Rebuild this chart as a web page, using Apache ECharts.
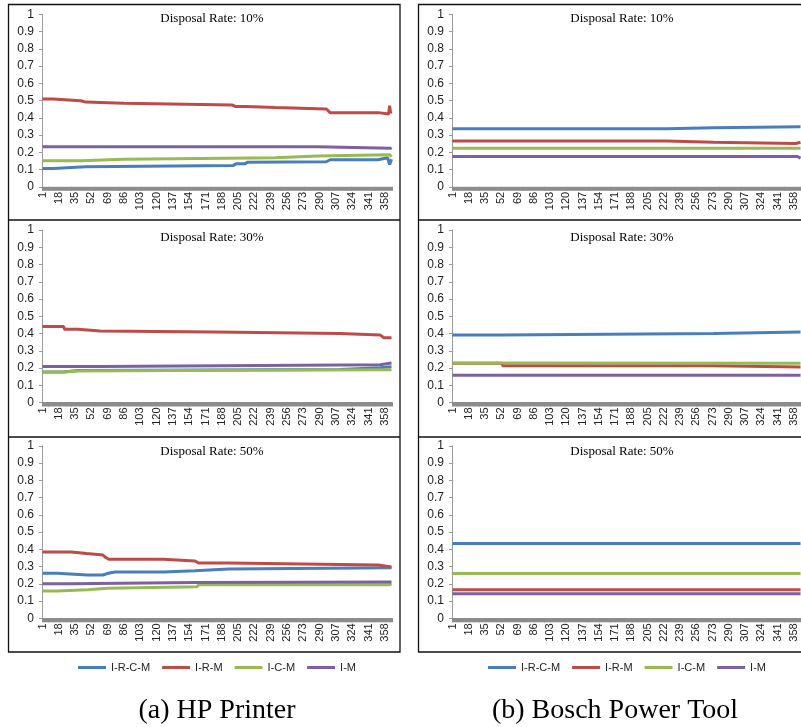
<!DOCTYPE html>
<html>
<head>
<meta charset="utf-8">
<title>Disposal Rate</title>
<script src="https://cdn.jsdelivr.net/npm/echarts@6/dist/echarts.min.js"></script>
<style>
html,body{margin:0;padding:0;background:#fff;}
#chart{width:801px;height:727px;}
</style>
</head>
<body>
<div id="chart"></div>
<script>
/*series names, panel titles and captions*/
var names = ['I-R-C-M', 'I-R-M', 'I-C-M', 'I-M'];
var rateTitles = ['Disposal Rate: 10%', 'Disposal Rate: 30%', 'Disposal Rate: 50%'];
var captions = ['(a) HP Printer', '(b) Bosch Power Tool'];

/*x categories: day 1 .. 365*/
var days = [];
for (var d = 1; d <= 365; d++) {
    days.push(String(d));
}

/**
 * [day, value] corners of each step line
 */
// HP Printer, 10%
var hp10_ircm = [[1,0.106],[12,0.106],[13,0.116],[46,0.116],[47,0.124],[200,0.124],[203,0.133],[212,0.133],[215,0.143],[297,0.145],[301,0.157],[351,0.157],[353,0.168],[361,0.168],[363,0.128],[365,0.16]];
var hp10_irm = [[1,0.509],[12,0.509],[13,0.499],[41,0.499],[42,0.491],[46,0.491],[47,0.484],[86,0.484],[87,0.474],[199,0.474],[202,0.466],[213,0.466],[215,0.46],[244,0.46],[246,0.451],[297,0.451],[301,0.43],[351,0.43],[353,0.422],[362,0.422],[363,0.47],[364,0.43],[365,0.435]];
var hp10_icm = [[1,0.151],[41,0.151],[42,0.159],[86,0.159],[87,0.168],[244,0.168],[246,0.176],[288,0.178],[290,0.186],[363,0.186],[365,0.174]];
var hp10_im = [[1,0.232],[288,0.232],[290,0.224],[364,0.224],[365,0.228]];
// HP Printer, 30%
var hp30_ircm = [[1,0.177],[23,0.177],[24,0.185],[38,0.185],[39,0.192],[311,0.192],[313,0.202],[353,0.202],[355,0.208],[365,0.208]];
var hp30_irm = [[1,0.44],[23,0.44],[24,0.425],[38,0.425],[39,0.415],[61,0.415],[62,0.408],[181,0.408],[183,0.4],[311,0.4],[313,0.392],[353,0.392],[357,0.375],[365,0.375]];
var hp30_icm = [[1,0.177],[23,0.177],[24,0.183],[38,0.183],[39,0.187],[181,0.187],[183,0.19],[365,0.19]];
var hp30_im = [[1,0.208],[61,0.208],[62,0.219],[353,0.219],[355,0.229],[365,0.229]];
// HP Printer, 50%
var hp50_ircm = [[1,0.261],[16,0.261],[17,0.251],[48,0.251],[49,0.255],[50,0.251],[64,0.251],[66,0.243],[68,0.258],[72,0.264],[77,0.268],[127,0.268],[128,0.276],[160,0.276],[162,0.286],[195,0.286],[197,0.293],[365,0.293]];
var hp50_irm = [[1,0.384],[31,0.384],[32,0.375],[47,0.375],[48,0.367],[64,0.367],[67,0.352],[70,0.342],[127,0.342],[128,0.332],[160,0.332],[164,0.32],[195,0.32],[197,0.309],[351,0.309],[353,0.3],[365,0.298]];
var hp50_icm = [[1,0.158],[16,0.158],[17,0.166],[48,0.166],[49,0.174],[69,0.174],[71,0.183],[162,0.183],[164,0.195],[363,0.195],[365,0.2]];
var hp50_im = [[1,0.2],[31,0.2],[32,0.208],[160,0.208],[162,0.21],[365,0.21]];
// Bosch Power Tool, 10%
var bo10_ircm = [[1,0.337],[225,0.337],[227,0.342],[274,0.342],[276,0.348],[365,0.348]];
var bo10_irm = [[1,0.265],[225,0.265],[227,0.258],[274,0.258],[276,0.251],[360,0.251],[362,0.258],[365,0.258]];
var bo10_icm = [[1,0.224],[365,0.224]];
var bo10_im = [[1,0.176],[362,0.176],[365,0.165]];
// Bosch Power Tool, 30%
var bo30_ircm = [[1,0.392],[52,0.392],[54,0.4],[274,0.4],[276,0.408],[365,0.408]];
var bo30_irm = [[1,0.228],[52,0.228],[54,0.213],[274,0.213],[276,0.206],[365,0.206]];
var bo30_icm = [[1,0.229],[52,0.229],[54,0.227],[365,0.227]];
var bo30_im = [[1,0.158],[365,0.158]];
// Bosch Power Tool, 50%
var bo50_ircm = [[1,0.433],[365,0.433]];
var bo50_irm = [[1,0.165],[365,0.165]];
var bo50_icm = [[1,0.26],[365,0.26]];
var bo50_im = [[1,0.142],[365,0.142]];

var panels = [
    {col: 0, row: 0, lines: [hp10_ircm, hp10_irm, hp10_icm, hp10_im]},
    {col: 0, row: 1, lines: [hp30_ircm, hp30_irm, hp30_icm, hp30_im]},
    {col: 0, row: 2, lines: [hp50_ircm, hp50_irm, hp50_icm, hp50_im]},
    {col: 1, row: 0, lines: [bo10_ircm, bo10_irm, bo10_icm, bo10_im]},
    {col: 1, row: 1, lines: [bo30_ircm, bo30_irm, bo30_icm, bo30_im]},
    {col: 1, row: 2, lines: [bo50_ircm, bo50_irm, bo50_icm, bo50_im]}
];

// layout
var colors = ['#4A7EBB', '#BE4B48', '#98B954', '#7D60A0'];
var colShift = 410;
var gridTops = [14.3, 230, 445.8];
var titleYs = [19, 238, 452];
var grids = [], xAxes = [], yAxes = [], series = [], graphics = [];

panels.forEach(function (p, i) {
    grids.push({left: 42 + p.col * colShift, top: gridTops[p.row], width: 350, height: 172.5});
    xAxes.push({
        type: 'category', gridIndex: i, data: days, boundaryGap: true,
        axisLine: {show: true, lineStyle: {color: '#8c8c8c'}},
        axisTick: {show: true, interval: 0, length: 4, lineStyle: {color: '#8c8c8c', width: 1}},
        axisLabel: {interval: 16, rotate: 90, fontSize: 11, margin: 5, color: '#222', fontFamily: 'Liberation Sans'}
    });
    yAxes.push({
        type: 'value', gridIndex: i, min: 0, max: 1, interval: 0.1,
        splitLine: {show: false},
        axisLine: {show: true, lineStyle: {color: '#9a9a9a'}},
        axisTick: {show: true, length: 3, lineStyle: {color: '#9a9a9a'}},
        axisLabel: {fontSize: 12, margin: 8, color: '#222', fontFamily: 'Liberation Sans'}
    });
    p.lines.forEach(function (pts, k) {
        series.push({
            type: 'line', name: names[k], xAxisIndex: i, yAxisIndex: i,
            data: pts.map(function (q) { return [q[0] - 1, q[1]]; }),
            symbol: 'none', showSymbol: false, z: 2 + k,
            lineStyle: {width: 3, color: colors[k]},
            itemStyle: {color: colors[k]}
        });
    });
    graphics.push({
        type: 'text', x: 212 + p.col * colShift, y: titleYs[p.row], z: 10,
        style: {text: rateTitles[p.row], align: 'center', verticalAlign: 'middle',
                font: '13px "Liberation Serif"', fill: '#000'}
    });
});

// frames round the panels
[0, 1].forEach(function (c) {
    var x0 = 8.5 + c * colShift;
    var w = c ? 400 : 391.5;
    graphics.push({type: 'rect', shape: {x: x0, y: 4.5, width: w, height: 647.5},
                   style: {fill: null, stroke: '#111', lineWidth: 1.3}});
    [220, 437].forEach(function (y) {
        graphics.push({type: 'line', shape: {x1: x0, y1: y, x2: x0 + w, y2: y},
                       style: {stroke: '#111', lineWidth: 1.3}});
    });
    graphics.push({
        type: 'text', x: [217, 615][c], y: 711,
        style: {text: captions[c], align: 'center', verticalAlign: 'middle',
                font: '28px "Liberation Serif"', fill: '#000'}
    });
});

var legendBase = {
    data: names, top: 657, icon: 'rect', itemWidth: 28, itemHeight: 3, itemGap: 12,
    textStyle: {fontSize: 11, color: '#222', fontFamily: 'Liberation Sans'}
};
var legends = [73, 483].map(function (x) {
    return echarts.util.extend({left: x}, legendBase);
});

var chart = echarts.init(document.getElementById('chart'));
chart.setOption({
    animation: false,
    backgroundColor: '#fff',
    legend: legends,
    grid: grids,
    xAxis: xAxes,
    yAxis: yAxes,
    series: series,
    graphic: graphics
});
</script>
</body>
</html>
